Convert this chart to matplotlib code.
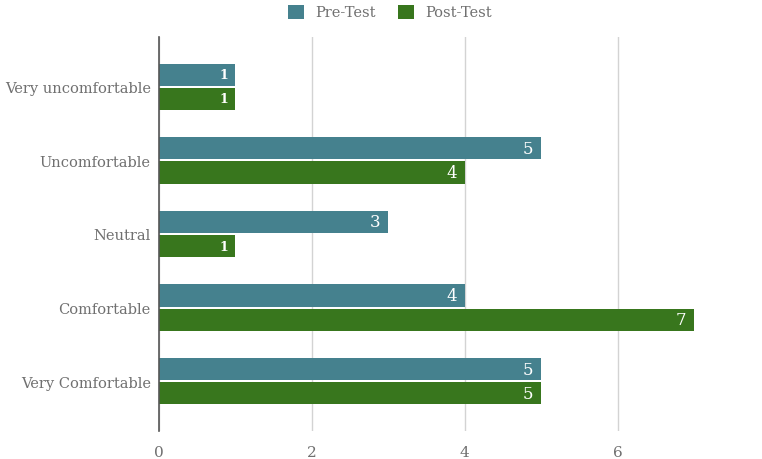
import matplotlib.pyplot as plt
import numpy as np

categories = ['Very uncomfortable', 'Uncomfortable', 'Neutral', 'Comfortable', 'Very Comfortable']
pre_test = [1, 5, 3, 4, 5]
post_test = [1, 4, 1, 7, 5]
x_ticks = [0, 2, 4, 6]

pre_color = '#45818e'
post_color = '#38761d'
text_color = '#707070'

plt.rcParams['font.family'] = ['DejaVu Serif']

fig = plt.figure(figsize=(7.62, 4.6), dpi=100)
ax = fig.add_axes([159 / 762, 28 / 460, 1 - 159 / 762, (432 - 38) / 460])

y = np.arange(len(categories))
h = 0.3
gap = 0.015
bars_pre = ax.barh(y - h / 2 - gap, pre_test, height=h, color=pre_color, label='Pre-Test', zorder=3)
bars_post = ax.barh(y + h / 2 + gap, post_test, height=h, color=post_color, label='Post-Test', zorder=3)

# value labels inside the bar ends
for bars, vals in [(bars_pre, pre_test), (bars_post, post_test)]:
    for b, v in zip(bars, vals):
        small = v == 1
        ax.text(v - 0.1, b.get_y() + b.get_height() / 2, str(v),
                ha='right', va='center', color='white',
                fontsize=9 if small else 12,
                fontweight='bold' if small else 'normal', zorder=4)

ax.set_ylim(len(categories) - 1 + 0.676, -0.676)
ax.set_yticks(y)
ax.set_yticklabels(categories, fontsize=10.5, color=text_color)
ax.set_xlim(0, 7.89)
ax.set_xticks(x_ticks)
ax.set_xticklabels([str(t) for t in x_ticks], fontsize=11, color=text_color)
ax.tick_params(axis='y', length=0, pad=6)
ax.tick_params(axis='x', length=0, pad=10)

ax.grid(axis='x', color='#d3d3d3', linewidth=1, zorder=0)
for s in ['top', 'right', 'bottom']:
    ax.spines[s].set_visible(False)
ax.spines['left'].set_color('#555555')
ax.spines['left'].set_linewidth(1.2)
ax.spines['left'].set_zorder(5)

fig.legend(loc='center', bbox_to_anchor=(390 / 762, 1 - 13 / 460), ncol=2, frameon=False,
           fontsize=10.5, labelcolor=text_color, handlelength=1.1, handleheight=1.1,
           columnspacing=1.5, handletextpad=0.8, borderpad=0)

plt.savefig('out.png', dpi=100)
